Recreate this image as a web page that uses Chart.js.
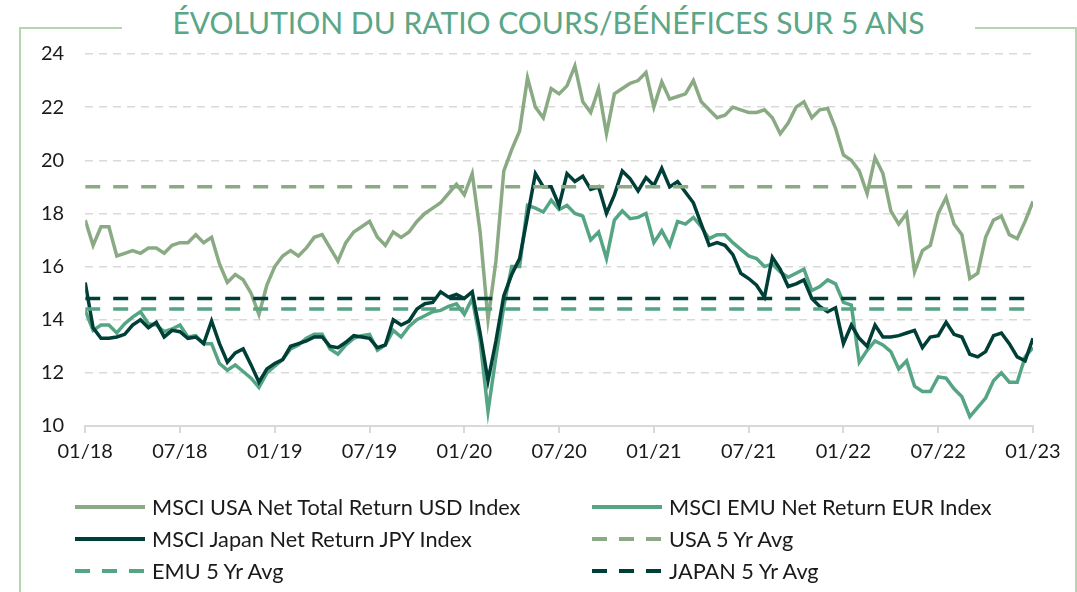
<!DOCTYPE html>
<html lang="fr">
<head>
<meta charset="utf-8">
<title>Évolution du ratio cours/bénéfices sur 5 ans</title>
<script src="https://cdn.jsdelivr.net/npm/chart.js@4/dist/chart.umd.min.js"></script>
<style>
    html, body {
        margin: 0;
        padding: 0;
        background: #fff;
        width: 1077px;
        height: 592px;
        overflow: hidden;
        font-family: 'Lato', sans-serif;
    }
    #frame {
        position: absolute;
        left: 19px;
        top: 27px;
        width: 1058px;
        height: 600px;
        border: 2px solid #b7d4b2;
        box-sizing: border-box;
    }
    #title {
        position: absolute;
        left: 10px;
        width: 1077px;
        top: 1px;
        text-align: center;
        pointer-events: none;
    }
    #title span {
        display: inline-block;
        background: #fff;
        padding: 0 50px;
        color: #5aa686;
        font-size: 30px;
        line-height: 42px;
    }
    #chart {
        position: absolute;
        left: 0;
        top: 0;
    }
    #legend {
        position: absolute;
        left: 75px;
        top: 491px;
        width: 1000px;
        display: grid;
        grid-template-columns: 517px 480px;
    }
    .item {
        display: flex;
        align-items: center;
        height: 32px;
        font-size: 21.7px;
        color: #1a1a1a;
    }
    .item svg {
        margin-right: 7px;
        flex: none;
    }
</style>
</head>
<body>
<div id="frame"></div>
<canvas id="chart" width="1077" height="592"></canvas>
<div id="title"><span>ÉVOLUTION DU RATIO COURS/BÉNÉFICES SUR 5 ANS</span></div>
<div id="legend"></div>

<script>
// Semi-monthly readings, 01/18 -> 01/23 (121 points)
const tickLabels = ['01/18', '07/18', '01/19', '07/19', '01/20', '07/20', '01/21', '07/21', '01/22', '07/22', '01/23'];

const usaPE = [
    17.75, 16.8, 17.5, 17.5, 16.4, 16.5, 16.6, 16.5, 16.7, 16.7, 16.5, 16.8,
    16.9, 16.9, 17.2, 16.9, 17.1, 16.1, 15.4, 15.7, 15.5, 15.0, 14.2, 15.3,
    16.0, 16.4, 16.6, 16.4, 16.7, 17.1, 17.2, 16.7, 16.2, 16.9, 17.3, 17.5,
    17.7, 17.1, 16.8, 17.3, 17.1, 17.3, 17.7, 18.0, 18.2, 18.4, 18.75, 19.1,
    18.7, 19.5, 17.3, 14.0, 16.2, 19.6, 20.4, 21.1, 23.1, 22.0, 21.6, 22.7,
    22.5, 22.8, 23.55, 22.2, 21.8, 22.7, 21.0, 22.5, 22.7, 22.9, 23.0, 23.3,
    22.0, 22.95, 22.3, 22.4, 22.5, 23.0, 22.2, 21.9, 21.6, 21.7, 22.0, 21.9,
    21.8, 21.8, 21.9, 21.6, 21.0, 21.4, 22.0, 22.2, 21.6, 21.9, 21.95, 21.2,
    20.2, 20.0, 19.6, 18.75, 20.1, 19.5, 18.1, 17.6, 18.0, 15.8, 16.6, 16.8,
    18.0, 18.6, 17.6, 17.2, 15.55, 15.75, 17.1, 17.75, 17.9, 17.2, 17.05, 17.7,
    18.45
];

const emuPE = [
    14.35, 13.6, 13.8, 13.8, 13.5, 13.85, 14.1, 14.3, 13.85, 13.8, 13.55, 13.65,
    13.8, 13.35, 13.4, 13.1, 13.1, 12.35, 12.1, 12.3, 12.05, 11.8, 11.45, 12.0,
    12.25, 12.5, 12.9, 13.05, 13.3, 13.45, 13.45, 12.9, 12.7, 13.05, 13.3, 13.4,
    13.45, 12.85, 13.05, 13.6, 13.35, 13.75, 14.0, 14.15, 14.3, 14.35, 14.5, 14.6,
    14.2, 14.8, 13.2, 10.55, 12.6, 14.5, 16.0, 16.0, 18.3, 18.2, 18.05, 18.5,
    18.15, 18.3, 18.0, 17.9, 17.0, 17.3, 16.3, 17.75, 18.1, 17.8, 17.85, 18.0,
    16.9, 17.35, 16.8, 17.7, 17.6, 17.85, 17.5, 17.05, 17.2, 17.2, 16.9, 16.65,
    16.4, 16.3, 16.0, 16.1, 15.8, 15.6, 15.75, 15.9, 15.1, 15.25, 15.5, 15.35,
    14.65, 14.55, 12.4, 12.85, 13.2, 13.05, 12.8, 12.15, 12.45, 11.5, 11.3, 11.3,
    11.85, 11.8, 11.4, 11.1, 10.35, 10.7, 11.05, 11.7, 12.0, 11.65, 11.65, 12.6,
    12.95
];

const japanPE = [
    15.4, 13.7, 13.3, 13.3, 13.35, 13.45, 13.8, 14.0, 13.7, 13.9, 13.35, 13.6,
    13.55, 13.3, 13.35, 13.1, 13.95, 13.1, 12.4, 12.75, 12.9, 12.3, 11.65, 12.15,
    12.35, 12.5, 13.0, 13.1, 13.2, 13.35, 13.35, 13.0, 12.95, 13.15, 13.4, 13.35,
    13.3, 12.95, 13.05, 14.0, 13.8, 13.95, 14.4, 14.6, 14.65, 15.05, 14.85, 14.95,
    14.8, 15.05, 13.5, 11.7, 13.2, 14.9, 15.7, 16.3, 17.9, 19.5, 19.0, 19.0,
    18.3, 19.5, 19.2, 19.4, 18.9, 19.0, 18.0, 18.7, 19.6, 19.3, 18.85, 19.35,
    19.05, 19.7, 19.0, 19.2, 18.8, 18.4, 17.6, 16.8, 16.9, 16.8, 16.45, 15.75,
    15.55, 15.3, 14.85, 16.35, 15.9, 15.25, 15.35, 15.5, 14.8, 14.5, 14.3, 14.45,
    13.1, 13.8, 13.3, 13.0, 13.8, 13.35, 13.35, 13.4, 13.5, 13.6, 12.95, 13.35,
    13.4, 13.9, 13.45, 13.35, 12.7, 12.6, 12.8, 13.4, 13.5, 13.1, 12.6, 12.45,
    13.3
];

// 5 year averages
const usaAvg = 19.0;
const emuAvg = 14.4;
const japanAvg = 14.8;

const colors = {
    usa: '#8aaa83',
    emu: '#55a585',
    japan: '#003f37'
};

function toPoints(values) {
    return values.map((v, i) => ({ x: i, y: v }));
}

function flatLine(value) {
    const last = usaPE.length - 1;
    return [{ x: 0, y: value }, { x: last, y: value }];
}

function seriesDataset(label, values, color, order) {
    return {
        label: label,
        data: toPoints(values),
        borderColor: color,
        backgroundColor: color,
        borderWidth: 3.5,
        pointRadius: 0,
        tension: 0,
        order: order
    };
}

function avgDataset(label, value, color, order) {
    return {
        label: label,
        data: flatLine(value),
        borderColor: color,
        backgroundColor: color,
        borderWidth: 3.5,
        borderDash: [15, 13],
        pointRadius: 0,
        order: order
    };
}

const chart = new Chart(document.getElementById('chart'), {
    type: 'line',
    data: {
        datasets: [
            seriesDataset('MSCI USA Net Total Return USD Index', usaPE, colors.usa, 6),
            seriesDataset('MSCI EMU Net Return EUR Index', emuPE, colors.emu, 5),
            seriesDataset('MSCI Japan Net Return JPY Index', japanPE, colors.japan, 4),
            avgDataset('USA 5 Yr Avg', usaAvg, colors.usa, 3),
            avgDataset('EMU 5 Yr Avg', emuAvg, colors.emu, 2),
            avgDataset('JAPAN 5 Yr Avg', japanAvg, colors.japan, 1)
        ]
    },
    options: {
        responsive: false,
        animation: false,
        devicePixelRatio: 1,
        layout: {
            padding: { left: 20, top: 54, right: 44, bottom: 121 }
        },
        plugins: {
            legend: { display: false },
            tooltip: { enabled: false }
        },
        scales: {
            x: {
                type: 'linear',
                min: 0,
                max: usaPE.length - 1,
                grid: {
                    display: true,
                    drawOnChartArea: false,
                    drawTicks: true,
                    tickLength: 7,
                    color: '#d9d9d9',
                    lineWidth: 2
                },
                border: { display: true, color: '#d9d9d9', width: 2 },
                ticks: {
                    stepSize: 12,
                    autoSkip: false,
                    maxRotation: 0,
                    padding: 7,
                    color: '#1a1a1a',
                    font: { family: 'Lato', size: 20 },
                    callback: (v) => tickLabels[Math.round(v / 12)]
                }
            },
            y: {
                min: 10,
                max: 24,
                grid: {
                    color: '#d9d9d9',
                    lineWidth: 1.5,
                    drawTicks: false
                },
                border: { display: false, dash: [8, 6] },
                ticks: {
                    stepSize: 2,
                    padding: 21,
                    color: '#1a1a1a',
                    font: { family: 'Lato', size: 20 }
                }
            }
        }
    }
});

// Legend in two columns, built from the datasets
const legend = document.getElementById('legend');
chart.data.datasets.forEach(ds => {
    const item = document.createElement('div');
    item.className = 'item';
    const dash = ds.borderDash ? 'stroke-dasharray="15 12"' : '';
    item.innerHTML =
        '<svg width="70" height="8"><line x1="0" y1="4" x2="70" y2="4" stroke="' + ds.borderColor +
        '" stroke-width="4" ' + dash + '/></svg><span>' + ds.label + '</span>';
    legend.appendChild(item);
});
</script>
</body>
</html>
